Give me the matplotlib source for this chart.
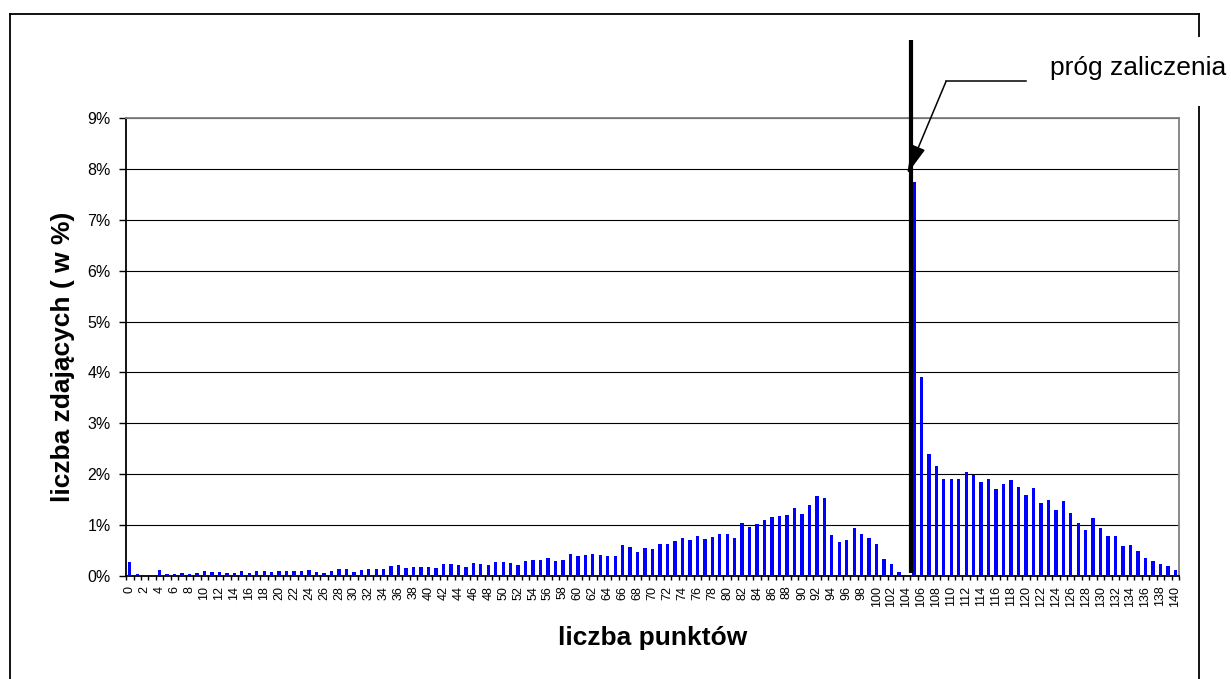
import numpy as np
import matplotlib.pyplot as plt
from matplotlib.ticker import PercentFormatter, MultipleLocator, FixedLocator
from matplotlib.lines import Line2D
from matplotlib.patches import Rectangle

plt.rcParams['font.family'] = ['Liberation Sans', 'DejaVu Sans']

# liczba punktów 0..140 i odsetek zdających (w %)
points = np.arange(0, 141)
share = [
    0.28, 0.04, 0.00, 0.00, 0.12, 0.04, 0.04, 0.06, 0.04, 0.06,   # 0-9
    0.10, 0.08, 0.08, 0.06, 0.06, 0.10, 0.06, 0.10, 0.10, 0.08,   # 10-19
    0.10, 0.10, 0.10, 0.10, 0.12, 0.08, 0.06, 0.10, 0.14, 0.14,   # 20-29
    0.08, 0.12, 0.14, 0.14, 0.14, 0.20, 0.22, 0.16, 0.18, 0.18,   # 30-39
    0.18, 0.16, 0.24, 0.24, 0.22, 0.18, 0.26, 0.24, 0.22, 0.28,   # 40-49
    0.28, 0.26, 0.22, 0.30, 0.32, 0.32, 0.36, 0.30, 0.32, 0.43,   # 50-59
    0.39, 0.41, 0.43, 0.41, 0.39, 0.39, 0.61, 0.57, 0.47, 0.55,   # 60-69
    0.53, 0.63, 0.63, 0.69, 0.75, 0.71, 0.79, 0.73, 0.77, 0.83,   # 70-79
    0.83, 0.75, 1.05, 0.97, 1.03, 1.11, 1.16, 1.18, 1.20, 1.34,   # 80-89
    1.22, 1.40, 1.58, 1.54, 0.81, 0.67, 0.71, 0.95, 0.83, 0.75,   # 90-99
    0.63, 0.34, 0.24, 0.08, 0.00, 7.75, 3.92, 2.39, 2.17, 1.91,   # 100-109
    1.91, 1.91, 2.05, 1.99, 1.84, 1.91, 1.70, 1.80, 1.89, 1.74,   # 110-119
    1.60, 1.72, 1.44, 1.50, 1.30, 1.48, 1.24, 1.05, 0.91, 1.13,   # 120-129
    0.95, 0.79, 0.79, 0.59, 0.61, 0.49, 0.36, 0.30, 0.24, 0.20,   # 130-139
    0.12,                                                         # 140
]
tick_labels = [str(p) for p in points[::2]]

# próg zaliczenia (między 104 a 105 pkt)
threshold = 104.6
threshold_label = 'próg zaliczenia'

fig = plt.figure(figsize=(12.31, 6.79), dpi=100)
ax = fig.add_axes([0.1024, 0.1517, 0.8554, 0.6745])

ax.bar(points, share, width=0.45, color='#0000ff', zorder=3)

ax.set_xlim(-0.5, 140.5)
ax.set_ylim(0, 9)
ax.yaxis.set_major_locator(MultipleLocator(1))
ax.yaxis.set_major_formatter(PercentFormatter(xmax=100, decimals=0))
ax.grid(axis='y', color='black', linewidth=0.8, zorder=1)

ax.xaxis.set_major_locator(FixedLocator(points[::2]))
ax.set_xticklabels(tick_labels, rotation=90, fontsize=9)
ax.xaxis.set_minor_locator(FixedLocator(np.arange(-0.5, 141, 1)))
ax.tick_params(axis='x', which='major', length=0, pad=7)
ax.tick_params(axis='x', which='minor', length=3, width=1, color='black')
ax.tick_params(axis='y', length=5, width=1, pad=6, labelsize=11.5)

for side in ['top', 'right']:
    ax.spines[side].set_color('#808080')
    ax.spines[side].set_linewidth(1.3)
for side in ['left', 'bottom']:
    ax.spines[side].set_color('black')
    ax.spines[side].set_linewidth(1.3)

ax.set_xlabel('liczba punktów', fontsize=19, fontweight='bold', labelpad=14)
ax.set_ylabel('liczba zdających ( w %)', fontsize=19, fontweight='bold')
ax.yaxis.set_label_coords(-0.0484, 0.478)

# gruba pionowa linia progu
ax.plot([threshold, threshold], [0.065, 10.53], color='black', linewidth=3,
        clip_on=False, zorder=5, solid_capstyle='butt')

# strzałka z opisem
ax.plot([120.0, 109.3], [9.72, 9.72], color='black', linewidth=1.1, clip_on=False, zorder=5)
ax.annotate('', xy=(104.1, 7.9), xytext=(109.3, 9.72),
            arrowprops=dict(arrowstyle='-|>,head_length=0.9,head_width=0.22',
                            color='black', lw=1.1, mutation_scale=20,
                            shrinkA=0, shrinkB=0),
            annotation_clip=False, zorder=5)

# ramka wykresu
W, H = 1231, 679
border = [Line2D([10 / W, 10 / W], [0, 1 - 14 / H]),
          Line2D([10 / W, 1199 / W], [1 - 14 / H, 1 - 14 / H]),
          Line2D([1199 / W, 1199 / W], [1 - 14 / H, -0.01])]
for ln in border:
    ln.set_color('black')
    ln.set_linewidth(1.3)
    fig.add_artist(ln)
fig.add_artist(Rectangle((1042 / W, 1 - 106 / H), 190 / W, 69 / H,
                         facecolor='white', edgecolor='none', zorder=10))
fig.text(1050 / W, 1 - 68 / H, threshold_label, fontsize=19, va='center', ha='left',
         zorder=11)

fig.savefig('out.png', dpi=100)
